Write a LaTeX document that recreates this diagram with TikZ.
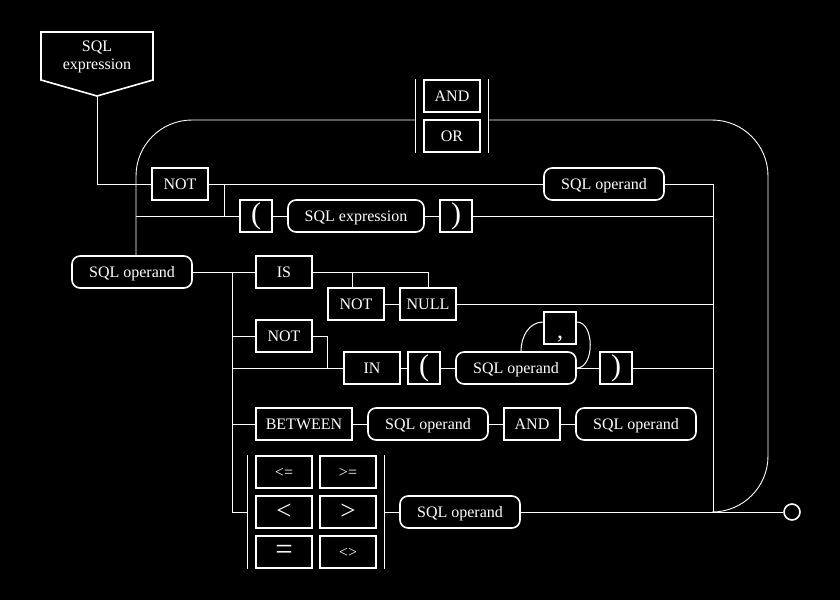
\documentclass[tikz,border=0pt]{standalone}
\usepackage{fontspec}
\setmainfont{Liberation Serif}
\begin{document}
\begin{tikzpicture}[
    x=1pt,y=-1pt,
    font=\fontsize{16}{18}\selectfont,
    every node/.style={text=white},
    cornice/.style={draw=white,line width=1.6pt,fill=black,
                    inner sep=0pt,minimum width=56pt,minimum height=32pt},
    parola/.style={cornice,text height=11pt,text depth=0pt},
    regola/.style={parola,rounded corners=8pt,minimum width=120pt},
    simbolo/.style={cornice,minimum width=32pt,font=\fontsize{30}{30}\selectfont},
    grande/.style={cornice,font=\fontsize{27}{27}\selectfont},
    linea/.style={draw=white,line width=1pt},
    anello/.style={draw=white,line width=0.9pt,rounded corners=56pt},
    barra/.style={draw=white,line width=1.3pt}]

  % ---- sfondo ----------------------------------------------------------------
  \useasboundingbox (0,0) rectangle (840,600);
  \fill[black] (0,0) rectangle (840,600);

  % ---- punto di partenza -----------------------------------------------------
  \draw[white,line width=1.6pt] (41,32) -- (153,32) -- (153,80) -- (97,96)
        -- (41,80) -- cycle;
  \node[align=center] (inizio) at (97,57) {SQL\\expression};
  \coordinate (punta) at (97,96);

  % ---- scelta AND / OR sull'anello -------------------------------------------
  \node[parola] (andB) at (452,96)  {AND};
  \node[parola] (orB)  at (452,136) {OR};
  \draw[barra] ([xshift=-8pt]andB.north west) -- ([xshift=-8pt]orB.south west);
  \draw[barra] ([xshift=8pt]andB.north east)  -- ([xshift=8pt]orB.south east);
  \coordinate (sceltaSx) at (416,120);
  \coordinate (sceltaDx) at (488,120);

  % ---- prima riga: NOT, operando, parentesi ----------------------------------
  \node[parola] (notA)  at (180,184) {NOT};
  \node[regola] (opTop) at (604,184) {SQL operand};
  \node[simbolo] (lpar1) at (256,216) {(};
  \node[regola,minimum width=136pt] (expr) at (356,216) {SQL expression};
  \node[simbolo] (rpar1) at (456,216) {)};

  % ---- operando di sinistra e predicati --------------------------------------
  \node[regola] (opL)  at (132,272) {SQL operand};
  \node[parola] (is)   at (284,272) {IS};
  \node[parola] (notB) at (356,304) {NOT};
  \node[parola] (null) at (428,304) {NULL};
  \node[parola] (notC) at (284,336) {NOT};
  \node[parola] (in)   at (372,368) {IN};
  \node[simbolo] (lpar2) at (424,368) {(};
  \node[regola]  (opIn)  at (516,368) {SQL operand};
  \node[simbolo,font=\fontsize{24}{24}\selectfont,text height=20pt,text depth=0pt]
        (comma) at (560,328) {,};
  \node[simbolo] (rpar2) at (616,368) {)};

  \node[parola,minimum width=96pt] (between) at (304,424) {BETWEEN};
  \node[regola] (opB1) at (428,424) {SQL operand};
  \node[parola] (andC) at (532,424) {AND};
  \node[regola] (opB2) at (636,424) {SQL operand};

  % ---- operatori di confronto ------------------------------------------------
  \node[parola] (c1) at (284,472) {<=};
  \node[parola] (c2) at (348,472) {>=};
  \node[grande] (c3) at (284,512) {<};
  \node[grande] (c4) at (348,512) {>};
  \node[grande,font=\fontsize{31}{31}\selectfont] (c5) at (284,552) {=};
  \node[parola] (c6) at (348,552) {<>};
  \draw[barra] ([xshift=-8pt]c1.north west) -- ([xshift=-8pt]c5.south west);
  \draw[barra] ([xshift=8pt]c2.north east)  -- ([xshift=8pt]c6.south east);
  \coordinate (cmpL) at ([xshift=-8pt]c3.west);
  \coordinate (cmpR) at ([xshift=8pt]c4.east);
  \node[regola] (opCmp) at (460,512) {SQL operand};

  % ---- uscita ----------------------------------------------------------------
  \coordinate (uscita) at (713,512);
  \node[circle,draw=white,line width=1.6pt,minimum size=16pt,inner sep=0pt]
        (fine) at (792,512) {};

  % ---- anello di ritorno -----------------------------------------------------
  \coordinate (anelloSx) at ([xshift=4pt]opL.north);
  \coordinate (anelloDx) at (768,300);
  \draw[anello] (anelloSx) |- (sceltaSx);
  \draw[anello] (sceltaDx) -| (anelloDx) |- (uscita);

  % ---- collegamenti ----------------------------------------------------------
  \coordinate (bivio)  at (224,184);
  \coordinate (diramo) at (232,272);
  \draw[linea] (punta) |- (notA.west);
  \draw[linea] (notA.east) -- (opTop.west);
  \draw[linea] (bivio) |- (lpar1.west);
  \draw[linea] (lpar1.west -| anelloSx) -- (lpar1.west);
  \draw[linea] (lpar1) -- (expr) -- (rpar1);
  \draw[linea] (rpar1.east) -- (rpar1.east -| uscita);
  \draw[linea] (opTop.east) -| (uscita);

  \draw[linea] (opL) -- (is);
  \draw[linea] (diramo) |- (cmpL);
  \draw[linea] (diramo) |- (notC.west);
  \draw[linea] (diramo) |- (in.west);
  \draw[linea] (diramo) |- (between.west);
  \draw[linea] (is.east) -| (null.north);
  \draw[linea] (is.east) -| ([xshift=-4pt]notB.north);
  \draw[linea] (notB) -- (null);
  \draw[linea] (null.east) -- (null.east -| uscita);
  \draw[linea] (notC.east) -| ([xshift=-16pt]in.west);
  \draw[linea] (in) -- (lpar2) -- (opIn) -- (rpar2);
  \draw[linea] (rpar2.east) -- (rpar2.east -| uscita);
  \draw[linea] ([xshift=5pt]opIn.north) to[out=90,in=180] ([yshift=6pt]comma.west);
  \draw[linea] ([yshift=6pt]comma.east) to[out=0,in=0] (opIn.east);
  \draw[linea] (between) -- (opB1) -- (andC) -- (opB2);
  \draw[linea] (cmpR) -- (opCmp.west);
  \draw[linea] (opCmp.east) -- (fine.west);

\end{tikzpicture}
\end{document}
